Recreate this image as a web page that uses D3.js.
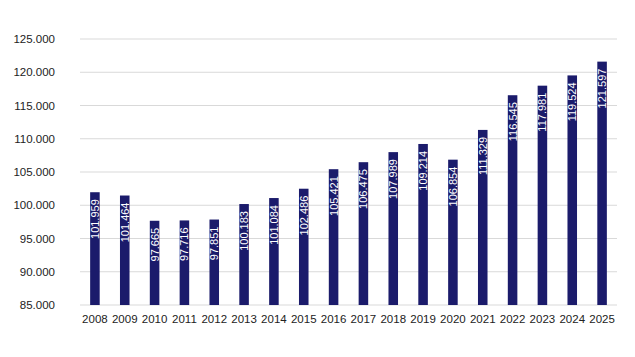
<!DOCTYPE html>
<html><head><meta charset="utf-8">
<script src="https://cdn.jsdelivr.net/npm/d3@7"></script>
<style>body{margin:0;background:#fff}svg{display:block}</style>
</head><body>
<script>
const years = ["2008","2009","2010","2011","2012","2013","2014","2015","2016","2017","2018","2019","2020","2021","2022","2023","2024","2025"];
const values = [101959,101464,97665,97716,97851,100183,101084,102486,105421,106475,107989,109214,106854,111329,116545,117981,119524,121597];
const valueLabels = ["101.959","101.464","97.665","97.716","97.851","100.183","101.084","102.486","105.421","106.475","107.989","109.214","106.854","111.329","116.545","117.981","119.524","121.597"];
const yTicks = [85000,90000,95000,100000,105000,110000,115000,120000,125000];

const W=635,H=357;
const svg=d3.select("body").append("svg").attr("width",W).attr("height",H);
const x=d3.scaleBand().domain(years).range([80,617]).paddingInner(0.68).paddingOuter(0.34);
const y=d3.scaleLinear().domain([85000,125000]).range([305,39]);
const tickFmt=d=>(d/1000).toFixed(3);

svg.append("g").selectAll("line").data(yTicks).join("line")
  .attr("x1",80).attr("x2",617).attr("y1",d=>y(d)).attr("y2",d=>y(d))
  .attr("stroke","#d9d9d9").attr("stroke-width",1);

const ya=svg.append("g").attr("transform","translate(62,0)")
  .call(d3.axisLeft(y).tickValues(yTicks).tickFormat(tickFmt).tickSize(0).tickPadding(7));
ya.select(".domain").remove();
ya.selectAll("text").attr("font-family","Liberation Sans, Arial, sans-serif").attr("font-size",11.5).attr("fill","#222");

const xa=svg.append("g").attr("transform","translate(0,305)")
  .call(d3.axisBottom(x).tickSize(0).tickPadding(10));
xa.select(".domain").remove();
xa.selectAll("text").attr("font-family","Liberation Sans, Arial, sans-serif").attr("font-size",11.5).attr("fill","#222");

svg.append("g").selectAll("rect").data(years).join("rect")
  .attr("x",d=>x(d)).attr("width",x.bandwidth())
  .attr("y",(d,i)=>y(values[i])).attr("height",(d,i)=>305-y(values[i]))
  .attr("fill","#1b1b6b");

svg.append("g").selectAll("text").data(years).join("text")
  .attr("transform",(d,i)=>`translate(${x(d)+x.bandwidth()/2},${y(values[i])+7}) rotate(-90)`)
  .attr("text-anchor","end").attr("dy","0.36em")
  .attr("font-family","Liberation Sans, Arial, sans-serif").attr("font-size",11)
  .attr("fill","#fff").text((d,i)=>valueLabels[i]);
</script>
</body></html>
